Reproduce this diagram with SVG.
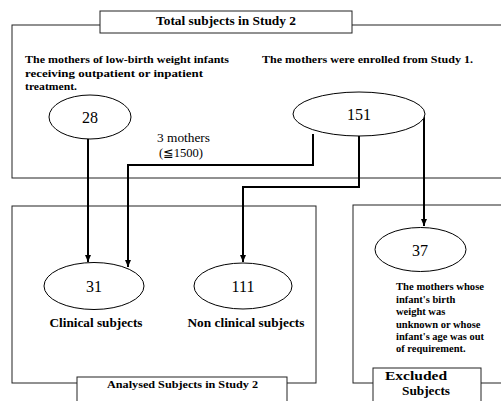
<svg xmlns="http://www.w3.org/2000/svg" width="501" height="401" viewBox="0 0 501 401">
<style>
.box{fill:none;stroke:#222;stroke-width:1}
.tbox{fill:#fff;stroke:#222;stroke-width:1}
.ell{fill:#fff;stroke:#000;stroke-width:1}
.b{font-family:"Liberation Serif",serif;font-weight:bold;fill:#000}
.r{font-family:"Liberation Serif","DejaVu Serif",serif;fill:#000}
.num{font-family:"Liberation Serif",serif;font-size:16px;text-anchor:middle;fill:#000}
.con{fill:none;stroke:#000;stroke-width:2}
</style>
<defs>
<marker id="arr" markerUnits="userSpaceOnUse" markerWidth="8" markerHeight="8" refX="7" refY="3" orient="auto">
<path d="M0,0 L7,3 L0,6 z" fill="#000"/>
</marker>
</defs>
<rect width="501" height="401" fill="#fff"/>

<g id="total-box">
<rect class="box" x="12" y="25" width="500" height="153"/>
<rect class="tbox" x="100" y="11" width="252" height="22"/>
<text class="b" x="226" y="25" font-size="12" text-anchor="middle" textLength="140" lengthAdjust="spacingAndGlyphs">Total subjects in Study 2</text>
<text class="b" font-size="10.5">
<tspan x="25" y="63" textLength="204" lengthAdjust="spacingAndGlyphs">The mothers of low-birth weight infants</tspan>
<tspan x="25" y="77" textLength="178" lengthAdjust="spacingAndGlyphs">receiving outpatient or inpatient</tspan>
<tspan x="25" y="90" textLength="52" lengthAdjust="spacingAndGlyphs">treatment.</tspan>
</text>
<text class="b" x="262" y="63" font-size="10.5" textLength="211" lengthAdjust="spacingAndGlyphs">The mothers were enrolled from Study 1.</text>
</g>

<g id="analysed-box">
<rect class="box" x="12" y="206" width="304" height="177"/>
<rect class="tbox" x="77" y="377" width="210" height="30"/>
<text class="b" x="107" y="388" font-size="11" textLength="151" lengthAdjust="spacingAndGlyphs">Analysed Subjects  in Study 2</text>
</g>

<g id="excluded-box">
<rect class="box" x="353" y="205" width="160" height="178"/>
<rect class="tbox" x="373" y="368" width="108" height="40"/>
<text class="b" x="385" y="380" font-size="13" textLength="62" lengthAdjust="spacingAndGlyphs">Excluded</text>
<text class="b" x="402" y="395" font-size="13" textLength="48" lengthAdjust="spacingAndGlyphs">Subjects</text>
</g>

<g id="connectors">
<path class="con" d="M88,139 V262" marker-end="url(#arr)"/>
<path class="con" d="M313,134 V165 H128 V267" marker-end="url(#arr)"/>
<path class="con" d="M359,136 V187 H243 V262" marker-end="url(#arr)"/>
<path class="con" d="M424,116 V226" marker-end="url(#arr)"/>
<text class="r" x="157" y="142" font-size="12.5" textLength="53" lengthAdjust="spacingAndGlyphs">3 mothers</text>
<text class="r" x="159" y="157" font-size="12" textLength="44" lengthAdjust="spacingAndGlyphs">(≦1500)</text>
</g>

<g id="node-28">
<ellipse class="ell" cx="90" cy="117" rx="41" ry="22"/>
<text class="num" x="90" y="123">28</text>
</g>

<g id="node-151">
<ellipse class="ell" cx="359" cy="114" rx="66" ry="22"/>
<text class="num" x="359" y="120">151</text>
</g>

<g id="node-31">
<ellipse class="ell" cx="94" cy="286" rx="50" ry="23.5"/>
<text class="num" x="94" y="292">31</text>
<text class="b" x="96" y="327" font-size="13" text-anchor="middle" textLength="93" lengthAdjust="spacingAndGlyphs">Clinical subjects</text>
</g>

<g id="node-111">
<ellipse class="ell" cx="243" cy="286" rx="49" ry="23"/>
<text class="num" x="243" y="292">111</text>
<text class="b" x="246" y="327" font-size="13" text-anchor="middle" textLength="117" lengthAdjust="spacingAndGlyphs">Non clinical subjects</text>
</g>

<g id="node-37">
<ellipse class="ell" cx="420.5" cy="249.5" rx="45.5" ry="22"/>
<text class="num" x="420" y="256">37</text>
<text class="b" font-size="10.5">
<tspan x="396" y="290" textLength="88" lengthAdjust="spacingAndGlyphs">The mothers whose</tspan>
<tspan x="396" y="303">infant's birth</tspan>
<tspan x="396" y="315">weight was</tspan>
<tspan x="396" y="328">unknown or whose</tspan>
<tspan x="396" y="340" textLength="88" lengthAdjust="spacingAndGlyphs">infant's age was out</tspan>
<tspan x="396" y="352">of requirement.</tspan>
</text>
</g>
</svg>
